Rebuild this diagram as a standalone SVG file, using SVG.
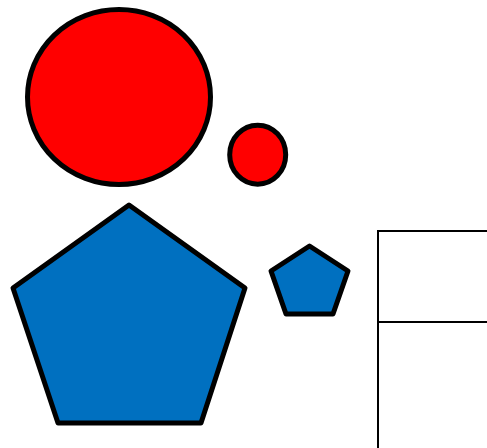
<svg xmlns="http://www.w3.org/2000/svg" width="487" height="448" viewBox="0 0 487 448">
<style>
.red{fill:#ff0000;stroke:#000;stroke-width:5}
.blue{fill:#0070c0;stroke:#000;stroke-width:5;stroke-linejoin:round}
.ln{stroke:#000;stroke-width:2;fill:none}
</style>
<rect width="487" height="448" fill="#fff"/>
<g id="big-circle"><ellipse class="red" cx="119" cy="97" rx="91.5" ry="87.5"/></g>
<g id="small-circle"><ellipse class="red" cx="257.7" cy="154.7" rx="28" ry="29.5"/></g>
<g id="big-pentagon"><polygon class="blue" points="129,205 245,288 201,423 58,423 13,288"/></g>
<g id="small-pentagon"><polygon class="blue" points="309.5,246 348,271 333,314 286,314 271,271"/></g>
<g id="connectors">
<path class="ln" d="M378,448 V231 H487 M378,322 H487"/>
</g>
</svg>
